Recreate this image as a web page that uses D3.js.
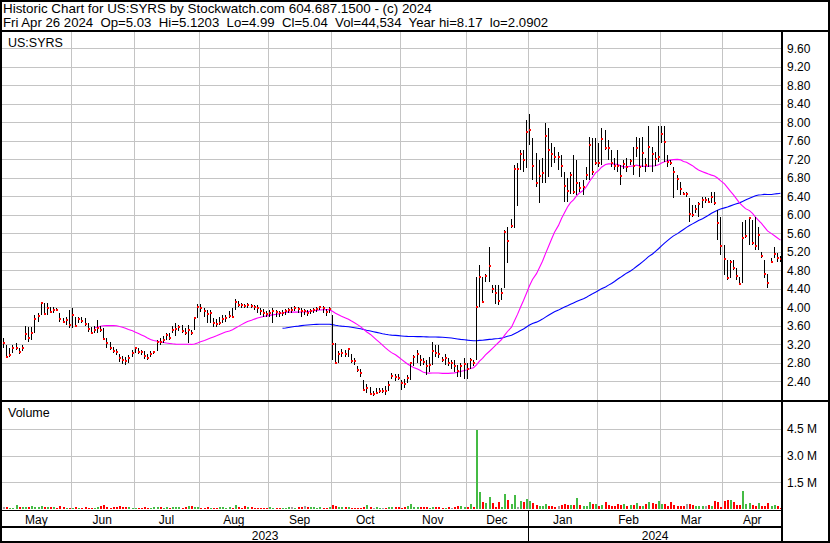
<!DOCTYPE html>
<html><head><meta charset="utf-8">
<script src="https://cdnjs.cloudflare.com/ajax/libs/d3/7.8.5/d3.min.js"></script>
<style>
body{margin:0;background:#fff}
svg{display:block;font-family:"Liberation Sans",Arial,sans-serif}
</style>
</head><body>
<svg id="c" width="830" height="543"></svg>
<script>
// ---- categories ----
const monthNames = ["May","Jun","Jul","Aug","Sep","Oct","Nov","Dec","Jan","Feb","Mar","Apr"];
const monthBarCounts = [22,20,21,22,20,22,21,20,22,20,20,19];
const yearLabels = ["2023","2024"];
const yearFirstMonth = [0,8];
const priceTicks = [2.4,2.8,3.2,3.6,4.0,4.4,4.8,5.2,5.6,6.0,6.4,6.8,7.2,7.6,8.0,8.4,8.8,9.2,9.6];
const volumeTicks = [1.5,3.0,4.5];
const fastPeriod = 30, slowPeriod = 90;
const titleLine1 = "Historic Chart for US:SYRS by Stockwatch.com 604.687.1500 - (c) 2024";
const titleLine2 = "Fri Apr 26 2024  Op=5.03  Hi=5.1203  Lo=4.99  Cl=5.04  Vol=44,534  Year hi=8.17  lo=2.0902";

// ---- series ----
const closes = [
3.23,2.93,2.97,3.11,3.13,3.03,3.13,3.42,3.33,3.45,3.75,3.82,4.10,3.85,3.98,3.89,3.95,3.94,3.74,3.69,3.72,3.62,
3.83,3.60,3.74,3.70,3.64,3.53,3.45,3.51,3.55,3.52,3.31,3.22,3.13,3.05,3.03,2.90,2.86,2.84,2.91,3.02,
3.13,3.04,3.03,2.95,2.91,3.00,3.03,3.26,3.24,3.29,3.40,3.34,3.52,3.53,3.57,3.49,3.45,3.51,3.44,3.76,4.00,
3.99,3.92,3.85,3.87,3.65,3.64,3.67,3.74,3.76,3.82,3.80,4.11,4.06,4.05,4.03,4.05,4.03,4.00,3.98,3.91,3.87,3.85,
3.87,3.91,3.89,3.87,3.88,3.91,3.94,3.94,3.98,3.96,3.91,3.91,3.88,3.91,3.94,3.96,4.00,3.98,3.89,3.96,
3.20,2.79,2.99,3.02,3.00,3.09,2.84,2.83,2.65,2.59,2.21,2.25,2.12,2.12,2.14,2.20,2.20,2.18,2.32,2.51,2.50,2.48,
2.37,2.34,2.48,2.79,2.93,2.98,2.86,2.82,2.74,2.75,3.06,3.02,2.99,2.86,2.90,2.79,2.79,2.74,2.62,2.73,2.77,
2.66,2.86,2.79,4.01,4.66,4.12,4.68,4.90,4.39,4.32,4.14,4.30,5.62,5.44,5.76,7.00,7.00,7.31,7.18,7.78,
7.83,7.06,6.69,6.84,6.90,7.71,7.40,7.31,7.24,7.24,7.06,6.62,6.52,6.85,6.50,6.69,6.59,6.61,6.86,7.52,6.93,7.13,
7.11,7.64,7.45,7.44,7.13,7.06,7.05,6.84,7.10,7.04,7.16,7.05,7.45,7.04,7.33,7.08,7.47,7.31,7.20,7.24,
7.75,7.58,7.15,7.13,6.93,6.77,6.55,6.45,6.45,6.02,6.00,6.12,6.23,6.32,6.32,6.28,6.39,6.25,5.83,5.33,
5.04,4.63,4.97,4.84,4.68,4.50,5.49,5.54,5.94,5.38,5.33,5.56,5.11,4.71,4.53,4.99,5.15,5.06,5.04];
const highs = [
3.33,3.19,3.11,3.19,3.22,3.11,3.19,3.60,3.58,3.58,3.83,3.87,4.12,4.09,4.09,4.01,4.01,3.98,3.87,3.76,3.80,3.94,
3.98,3.80,3.80,3.78,3.76,3.65,3.58,3.60,3.73,3.60,3.55,3.33,3.25,3.15,3.10,3.00,2.95,2.93,2.97,3.08,
3.15,3.13,3.08,3.05,2.98,3.05,3.06,3.29,3.34,3.37,3.45,3.45,3.60,3.65,3.62,3.62,3.55,3.62,3.52,3.80,4.08,
4.07,3.98,3.94,3.94,3.76,3.74,3.80,3.83,3.83,3.91,3.98,4.17,4.14,4.10,4.08,4.10,4.07,4.05,4.05,3.98,3.96,3.92,
3.95,3.98,3.95,3.93,3.95,3.97,3.99,4.00,4.02,4.01,3.98,3.96,3.95,3.96,3.98,4.00,4.03,4.02,3.97,4.00,
3.83,3.22,3.05,3.10,3.07,3.12,3.00,2.90,2.72,2.67,2.43,2.35,2.28,2.20,2.25,2.25,2.25,2.30,2.40,2.58,2.55,2.55,
2.43,2.46,2.54,2.82,2.97,3.08,2.97,2.90,2.86,2.93,3.26,3.19,3.19,2.93,3.00,2.90,2.86,2.85,2.75,2.79,2.90,
2.79,2.90,2.85,4.66,4.91,4.66,4.73,5.31,4.48,4.48,4.48,4.41,5.67,5.74,5.92,7.08,7.11,7.40,7.40,8.05,
8.17,7.65,7.33,7.18,7.22,7.98,7.87,7.55,7.47,7.36,7.29,6.93,6.79,6.93,7.29,7.18,6.72,6.75,7.04,7.69,7.65,7.65,
7.55,7.87,7.83,7.62,7.40,7.22,7.40,7.08,7.18,7.22,7.20,7.47,7.69,7.65,7.69,7.22,7.91,7.47,7.35,7.91,
7.91,7.91,7.29,7.19,7.04,6.86,6.72,6.50,6.50,6.36,6.21,6.21,6.28,6.39,6.39,6.36,6.50,6.50,6.10,5.96,
5.35,5.02,5.02,5.02,4.84,4.66,5.85,5.89,5.96,5.89,5.96,5.74,5.20,5.02,4.73,5.06,5.31,5.17,5.12];
const lows = [
3.11,2.92,2.92,3.01,3.08,3.00,3.05,3.29,3.26,3.29,3.44,3.69,3.83,3.83,3.83,3.87,3.87,3.91,3.69,3.65,3.62,3.55,
3.55,3.58,3.66,3.65,3.60,3.47,3.42,3.45,3.44,3.47,3.29,3.11,3.08,3.02,2.97,2.82,2.78,2.75,2.80,2.93,
3.01,3.00,2.96,2.89,2.86,2.93,2.98,3.05,3.19,3.22,3.29,3.29,3.45,3.38,3.48,3.45,3.40,3.22,3.40,3.52,3.76,
3.90,3.80,3.65,3.65,3.58,3.58,3.62,3.65,3.69,3.76,3.76,3.95,4.01,3.98,3.98,3.98,3.98,3.94,3.87,3.83,3.80,3.80,
3.80,3.65,3.80,3.80,3.82,3.84,3.88,3.88,3.92,3.88,3.80,3.84,3.82,3.85,3.88,3.90,3.94,3.88,3.82,3.88,
2.85,2.77,2.79,2.93,2.93,2.93,2.79,2.75,2.60,2.50,2.18,2.15,2.10,2.09,2.12,2.15,2.15,2.10,2.20,2.45,2.41,2.43,
2.21,2.25,2.36,2.43,2.72,2.79,2.72,2.75,2.54,2.61,2.75,2.93,2.90,2.82,2.75,2.72,2.66,2.60,2.50,2.49,2.46,
2.46,2.66,2.72,2.86,4.01,4.09,4.55,4.55,4.30,4.08,4.05,4.16,4.41,4.95,5.71,5.71,6.19,6.97,6.93,7.01,
7.51,6.75,6.61,6.25,6.68,6.68,6.82,7.04,7.11,6.97,6.82,6.28,6.28,6.46,6.46,6.43,6.50,6.43,6.75,6.75,6.86,7.08,
7.04,7.08,7.40,7.18,7.04,6.97,6.93,6.64,7.00,6.93,7.08,6.86,7.26,6.82,7.04,6.93,7.04,6.93,7.05,7.15,
7.55,7.15,7.04,7.08,6.36,6.54,6.43,6.43,6.39,5.85,5.96,6.03,5.96,6.14,6.25,6.25,6.25,6.21,5.46,5.13,
4.70,4.59,4.63,4.81,4.59,4.48,4.52,5.49,5.35,5.35,5.24,5.24,5.06,4.63,4.41,4.95,5.06,4.99,4.99];
// volume in thousands of shares
const volumes = [
90,100,80,70,240,110,130,120,110,150,120,100,170,120,90,110,130,80,150,100,60,70,
60,90,80,70,90,60,80,80,120,150,230,90,80,110,120,160,130,90,100,80,
60,70,80,90,60,80,100,110,90,70,100,80,120,130,90,70,110,150,170,110,90,
60,80,90,70,60,80,100,90,70,120,80,240,110,60,180,90,110,80,70,60,80,70,
90,60,80,50,60,70,90,120,80,130,110,170,120,90,110,80,100,70,60,120,
240,180,100,90,90,100,60,70,80,80,110,210,100,80,90,70,60,80,100,120,90,110,
80,120,160,280,120,140,110,100,90,80,120,130,90,70,80,90,60,110,150,190,100,
100,280,90,4450,940,370,320,660,320,130,370,130,840,500,280,790,100,430,370,560,
470,320,220,190,190,280,190,190,130,150,220,280,220,220,220,620,220,150,150,410,280,280,
190,220,370,220,150,190,280,220,280,150,220,220,340,190,150,280,410,340,280,470,
280,280,190,410,220,150,150,190,280,280,220,190,150,150,190,220,150,470,370,100,
470,510,510,370,220,220,1030,280,320,220,190,320,190,190,320,190,220,150,45];

// ---- layout ----
const W = 830, H = 543;
const L = 2, R = 782, PT = 32, PB = 400, VT = 402, VB = 509;
const GRID = "#c4c4c4";
const svg = d3.select("#c");
svg.append("rect").attr("width", W).attr("height", H).attr("fill", "#fff");

const n = closes.length;
const x = d3.scaleBand().domain(d3.range(n)).range([L, R]);
const cx = i => Math.floor(x(i) + x.bandwidth() / 2);
const y = d3.scaleLinear().domain([2.4, 9.6]).range([381.3, 48.3]);
const yv = d3.scaleLinear().domain([0, 4.5]).range([VB, 428.8]);

// month starts
const monthStarts = [];
{ let s = 0; monthBarCounts.forEach(c => { monthStarts.push(s); s += c; }); }
const monthEnd = m => (m + 1 < monthStarts.length ? x(monthStarts[m + 1]) : R);

// gridlines
const g = svg.append("g").attr("shape-rendering", "crispEdges");
g.selectAll(".hp").data(priceTicks).enter().append("line")
  .attr("x1", L).attr("x2", R).attr("y1", d => Math.round(y(d)) + 0.5).attr("y2", d => Math.round(y(d)) + 0.5)
  .attr("stroke", GRID);
g.selectAll(".hv").data(volumeTicks).enter().append("line")
  .attr("x1", L).attr("x2", R).attr("y1", d => Math.round(yv(d)) + 0.5).attr("y2", d => Math.round(yv(d)) + 0.5)
  .attr("stroke", GRID);
const mb = monthStarts.slice(1);
g.selectAll(".vp").data(mb).enter().append("line")
  .attr("x1", d => Math.round(x(d)) + 0.5).attr("x2", d => Math.round(x(d)) + 0.5)
  .attr("y1", PT).attr("y2", PB).attr("stroke", GRID);
g.selectAll(".vv").data(mb).enter().append("line")
  .attr("x1", d => Math.round(x(d)) + 0.5).attr("x2", d => Math.round(x(d)) + 0.5)
  .attr("y1", VT).attr("y2", VB).attr("stroke", GRID);

// moving averages (computed from closes)
function sma(arr, p) {
  return arr.map((v, i) => i < p - 1 ? null : d3.mean(arr.slice(i - p + 1, i + 1)));
}
const maF = sma(closes, fastPeriod), maS = sma(closes, slowPeriod);
const line = d3.line().defined(d => d[1] != null).x(d => cx(d[0]) + 0.5).y(d => y(d[1]));
svg.append("path").datum(maS.map((v, i) => [i, v])).attr("d", line)
  .attr("fill", "none").attr("stroke", "#0000ff").attr("stroke-width", 1.1);
svg.append("path").datum(maF.map((v, i) => [i, v])).attr("d", line)
  .attr("fill", "none").attr("stroke", "#ff00ff").attr("stroke-width", 1.1);

// price bars
const bars = svg.append("g").attr("shape-rendering", "crispEdges");
bars.selectAll(".hl").data(d3.range(n)).enter().append("rect")
  .attr("x", i => cx(i)).attr("width", 1)
  .attr("y", i => Math.round(y(highs[i])))
  .attr("height", i => Math.max(1, Math.round(y(lows[i])) - Math.round(y(highs[i]))))
  .attr("fill", "#000");
bars.selectAll(".cl").data(d3.range(n)).enter().append("rect")
  .attr("x", i => cx(i)).attr("width", 2)
  .attr("y", i => Math.round(y(closes[i])) - 1).attr("height", 2)
  .attr("fill", "#ff0000");

// volume bars
const vcol = i => i === 0 ? "#a0a0a0" : (closes[i] > closes[i - 1] ? "#44bb44" : closes[i] < closes[i - 1] ? "#ff0000" : "#a0a0a0");
bars.selectAll(".vb").data(d3.range(n)).enter().append("rect")
  .attr("x", i => cx(i)).attr("width", 2)
  .attr("y", i => Math.round(yv(volumes[i] / 1000)))
  .attr("height", i => Math.max(1, VB - Math.round(yv(volumes[i] / 1000))))
  .attr("fill", vcol);

// frame lines
const fr = svg.append("g").attr("shape-rendering", "crispEdges").attr("stroke", "#000");
fr.append("rect").attr("x", 1).attr("y", 0.5).attr("width", 828).attr("height", 541.5).attr("fill", "none").attr("stroke-width", 2);
fr.append("line").attr("x1", 0).attr("x2", W).attr("y1", 31).attr("y2", 31).attr("stroke-width", 2);
fr.append("line").attr("x1", 0).attr("x2", W).attr("y1", 401).attr("y2", 401).attr("stroke-width", 2);
fr.append("line").attr("x1", R).attr("x2", R).attr("y1", 31).attr("y2", H).attr("stroke-width", 2);
fr.append("line").attr("x1", 0).attr("x2", R).attr("y1", 510.5).attr("y2", 510.5).attr("stroke-width", 1);
fr.append("line").attr("x1", 0).attr("x2", R).attr("y1", 527).attr("y2", 527).attr("stroke-width", 2);
const janX = Math.round(x(monthStarts[yearFirstMonth[1]])) + 0.5;
fr.append("line").attr("x1", janX).attr("x2", janX).attr("y1", 510).attr("y2", H).attr("stroke-width", 1);

// texts
const t = svg.append("g").attr("fill", "#000").attr("font-size", 12);
t.append("text").attr("x", 3).attr("y", 13).attr("font-size", 13.4).attr("xml:space", "preserve").style("white-space", "pre").text(titleLine1);
t.append("text").attr("x", 3).attr("y", 27).attr("font-size", 13.2).attr("xml:space", "preserve").style("white-space", "pre").text(titleLine2);
t.append("text").attr("x", 8).attr("y", 47).attr("font-size", 12.5).text("US:SYRS");
t.append("text").attr("x", 8).attr("y", 417).attr("font-size", 12.5).text("Volume");
t.selectAll(".pt").data(priceTicks).enter().append("text")
  .attr("x", 787).attr("y", d => y(d) + 4.5).text(d => d.toFixed(2));
t.selectAll(".vt").data(volumeTicks).enter().append("text")
  .attr("x", 787).attr("y", d => yv(d) + 4.5).text(d => d.toFixed(1) + " M");
t.selectAll(".mt").data(monthNames).enter().append("text")
  .attr("x", (d, m) => (x(monthStarts[m]) + monthEnd(m)) / 2).attr("y", 524)
  .attr("text-anchor", "middle").text(d => d);
t.selectAll(".yt").data(yearLabels).enter().append("text")
  .attr("x", (d, k) => {
    const a = x(monthStarts[yearFirstMonth[k]]);
    const b = k + 1 < yearFirstMonth.length ? x(monthStarts[yearFirstMonth[k + 1]]) : R;
    return (a + b) / 2;
  }).attr("y", 540).attr("text-anchor", "middle").text(d => d);
</script>
</body></html>
